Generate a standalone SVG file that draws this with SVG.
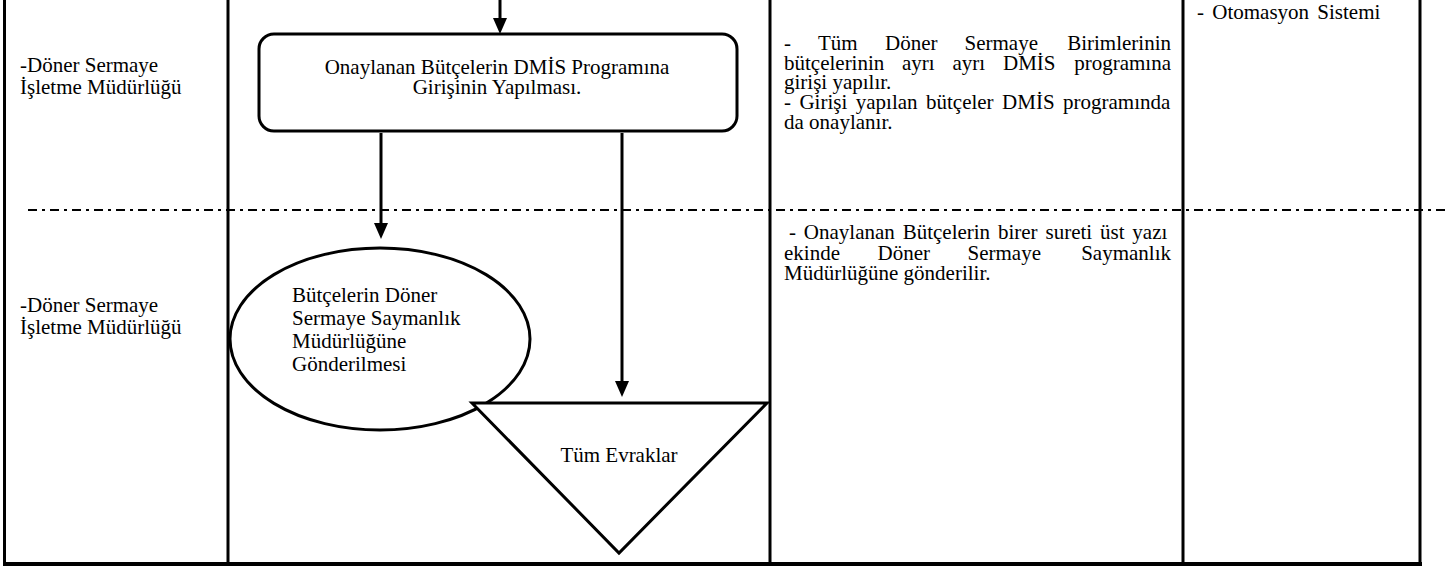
<svg xmlns="http://www.w3.org/2000/svg" width="1445" height="569" viewBox="0 0 1445 569">
  <style>
    .t { font-family: "Liberation Serif", "Times New Roman", serif; font-size: 21px; fill: #000; }
    .grid { stroke: #000; stroke-width: 3; fill: none; }
    .shape { stroke: #000; stroke-width: 3; fill: #fff; }
    .conn { stroke: #000; stroke-width: 3; fill: none; }
    .dd { stroke: #000; stroke-width: 2; stroke-dasharray: 9 5 3 5; fill: none; }
  </style>
  <defs>
    <marker id="ah" markerUnits="userSpaceOnUse" markerWidth="16" markerHeight="16" refX="0" refY="7" orient="auto">
      <path d="M0,0 L16,7 L0,14 z" fill="#000"/>
    </marker>
  </defs>
  <rect x="0" y="0" width="1445" height="569" fill="#fff"/>

  <g id="grid">
    <line class="grid" x1="4.5" y1="0" x2="4.5" y2="566"/>
    <line class="grid" x1="228" y1="0" x2="228" y2="566"/>
    <line class="grid" x1="770" y1="0" x2="770" y2="566"/>
    <line class="grid" x1="1183" y1="0" x2="1183" y2="566"/>
    <line class="grid" x1="1420" y1="0" x2="1420" y2="566"/>
    <line x1="3" y1="564" x2="1422" y2="564" stroke="#000" stroke-width="4"/>
    <line class="dd" x1="28" y1="210" x2="1445" y2="210"/>
  </g>

  <g id="lane1-label">
    <text class="t" x="20" y="72">-Döner Sermaye</text>
    <text class="t" x="20" y="94">İşletme Müdürlüğü</text>
  </g>
  <g id="lane2-label">
    <text class="t" x="20" y="312">-Döner Sermaye</text>
    <text class="t" x="20" y="334">İşletme Müdürlüğü</text>
  </g>

  <g id="node-dmis">
    <rect class="shape" x="259" y="34" width="478" height="97" rx="15" ry="15"/>
    <text class="t" x="497" y="74" text-anchor="middle">Onaylanan Bütçelerin DMİS Programına</text>
    <text class="t" x="497" y="94" text-anchor="middle">Girişinin Yapılması.</text>
  </g>

  <g id="node-gonderim">
    <ellipse class="shape" cx="380" cy="339" rx="150" ry="91"/>
    <text class="t" x="292" y="302">Bütçelerin Döner</text>
    <text class="t" x="292" y="325">Sermaye Saymanlık</text>
    <text class="t" x="292" y="348">Müdürlüğüne</text>
    <text class="t" x="292" y="371">Gönderilmesi</text>
  </g>

  <g id="node-evraklar">
    <polygon class="shape" points="472,403 767,403 619,553"/>
    <text class="t" x="619" y="462" text-anchor="middle">Tüm Evraklar</text>
  </g>

  <g id="desc1">
    <text class="t" y="50"><tspan x="784">-</tspan><tspan x="818">Tüm</tspan><tspan x="885">Döner</tspan><tspan x="964.5">Sermaye</tspan><tspan x="1171" text-anchor="end">Birimlerinin</tspan></text>
    <text class="t" y="70"><tspan x="784">bütçelerinin</tspan><tspan x="902">ayrı</tspan><tspan x="952.5">ayrı</tspan><tspan x="1003">DMİS</tspan><tspan x="1171" text-anchor="end">programına</tspan></text>
    <text class="t" x="784" y="89">girişi yapılır.</text>
    <text class="t" x="784" y="109" word-spacing="3.2">- Girişi yapılan bütçeler DMİS programında</text>
    <text class="t" x="784" y="129">da onaylanır.</text>
  </g>

  <g id="desc2">
    <text class="t" x="789" y="239" word-spacing="2.6">- Onaylanan Bütçelerin birer sureti üst yazı</text>
    <text class="t" y="260"><tspan x="784">ekinde</tspan><tspan x="877.5">Döner</tspan><tspan x="967.5">Sermaye</tspan><tspan x="1171" text-anchor="end">Saymanlık</tspan></text>
    <text class="t" x="784" y="280">Müdürlüğüne gönderilir.</text>
  </g>

  <g id="resource1">
    <text class="t" x="1197" y="19" word-spacing="3">- Otomasyon Sistemi</text>
  </g>

  <g id="connectors">
    <line class="conn" x1="500" y1="0" x2="500" y2="18" marker-end="url(#ah)"/>
    <line class="conn" x1="381" y1="133" x2="381" y2="223" marker-end="url(#ah)"/>
    <line class="conn" x1="622" y1="133" x2="622" y2="381" marker-end="url(#ah)"/>
  </g>
</svg>
